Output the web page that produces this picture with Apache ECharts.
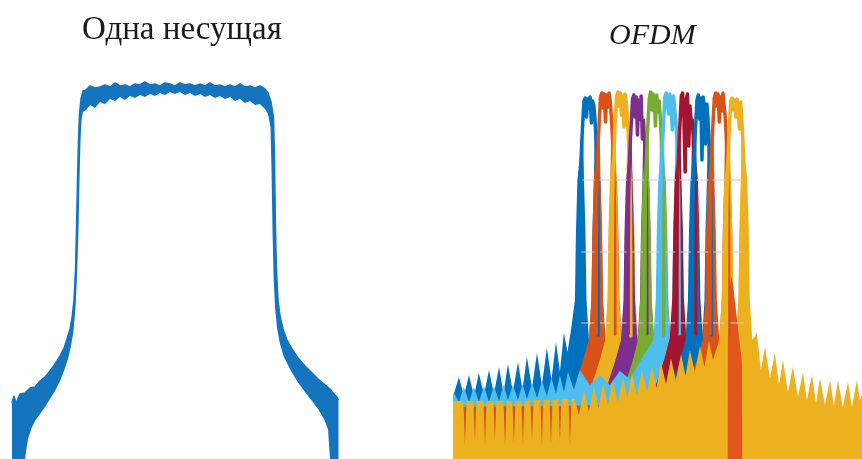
<!DOCTYPE html>
<html>
<head>
<meta charset="utf-8">
<script src="https://cdn.jsdelivr.net/npm/echarts@6/dist/echarts.min.js"></script>
<style>
html,body{margin:0;padding:0;background:#fff;}
#chart{width:862px;height:459px;}
</style>
</head>
<body>
<div id="chart"></div>
<script>
// ---------- Titles ----------
const panelTitles = ['Одна несущая', 'OFDM'];

// ---------- Left panel: single carrier spectrum (frequency, level dB) ----------
const singleOuterFreq = [-16.3,-16.1,-15.9,-15.5,-15.0,-14.5,-14.0,-13.5,-13.0,-12.5,-12.0,-11.5,-11.1,-10.8,-10.5,-10.3,-10.1,-9.95,-9.85,-9.75,-9.65,-9.55,-9.4,-9.2,
  -8.9,-8.5,-8.0,-7.5,-7.0,-6.5,-6.0,-5.5,-5.0,-4.5,-4.0,-3.5,-3.0,-2.5,-2.0,-1.5,-1.0,-0.5,0,0.5,1.0,1.5,2.0,2.5,3.0,3.5,4.0,4.5,5.0,5.5,6.0,6.5,7.0,7.5,8.0,8.5,9.0,9.3,
  9.6,9.85,9.95,10.05,10.15,10.3,10.5,10.8,11.2,11.7,12.3,13.0,13.7,14.3,14.9,15.5,15.9,16.2,16.35];
const singleOuterLevel = [-68.8,-67.4,-68.8,-67.0,-66.8,-65.8,-65.6,-64.4,-63.6,-62.4,-61.0,-59.4,-57.8,-56.0,-54.0,-51.8,-48.2,-42.2,-34.2,-24.2,-16.2,-11.0,-8.0,-6.4,
  -6.2,-5.4,-5.8,-5.6,-5.2,-5.6,-4.8,-5.4,-5.2,-5.6,-5.0,-5.2,-4.6,-5.2,-5.0,-5.4,-4.8,-5.0,-5.4,-4.8,-5.2,-5.0,-5.4,-5.0,-5.4,-4.8,-5.4,-5.2,-5.6,-5.2,-5.6,-5.0,-5.6,-5.4,-5.8,-5.4,-6.0,-6.8,
  -8.6,-11.6,-20.2,-34.2,-42.2,-48.2,-51.4,-54.0,-56.2,-58.0,-59.8,-61.4,-62.8,-64.0,-65.0,-66.0,-67.0,-67.6,-68.2];
const singleInnerFreq = [-16.5,-15.0,-14.7,-14.3,-14.0,-13.5,-13.0,-12.5,-12.0,-11.5,-11.1,-10.7,-10.4,-10.15,-9.95,-9.8,-9.65,-9.55,-9.45,-9.35,-9.2,
  -8.9,-8.5,-8.0,-7.5,-7.0,-6.5,-6.0,-5.5,-5.0,-4.5,-4.0,-3.5,-3.0,-2.5,-2.0,-1.5,-1.0,-0.5,0,0.5,1.0,1.5,2.0,2.5,3.0,3.5,4.0,4.5,5.0,5.5,6.0,6.5,7.0,7.5,8.0,8.5,9.0,9.3,
  9.55,9.65,9.75,9.85,10.0,10.2,10.5,10.9,11.5,12.2,13.0,13.7,14.3,14.9,15.3,15.5,16.5];
const singleInnerLevel = [-80,-80,-76.0,-73.6,-72.4,-71.0,-69.6,-68.0,-66.4,-64.4,-62.4,-60.0,-57.4,-54.4,-49.8,-43.6,-34.2,-24.2,-16.4,-12.2,-10.6,
  -10.2,-9.2,-9.8,-8.6,-9.0,-8.0,-8.4,-7.6,-8.2,-7.4,-7.8,-7.2,-7.6,-7.0,-7.4,-6.8,-7.2,-6.6,-7.0,-6.6,-7.2,-6.8,-7.4,-7.0,-7.6,-7.2,-7.8,-7.4,-8.0,-7.6,-8.4,-8.0,-8.8,-8.4,-9.2,-9.0,-10.0,-11.0,
  -13.6,-22.2,-34.2,-43.2,-49.6,-53.8,-57.0,-59.6,-62.0,-64.4,-66.6,-68.4,-70.0,-72.0,-74.0,-80,-80];

// ---------- Right panel: OFDM subcarriers (frequency in subcarrier spacings, level dB) ----------
const carrierNames = ['Поднесущая 1','Поднесущая 2','Поднесущая 3','Поднесущая 4','Поднесущая 5','Поднесущая 6','Поднесущая 7','Поднесущая 8','Поднесущая 9','Поднесущая 10'];
const carrierCenters = [0, 1, 1.97, 2.94, 3.96, 4.9, 5.9, 6.85, 7.9, 8.9];
// main lobe outline: left edge, noisy top, right edge
const lobeOffsets = [-0.57,-0.56,-0.54,-0.5,-0.43,-0.36,-0.3,-0.22,-0.15,-0.07,0,0.07,0.15,0.22,0.3,0.36,0.43,0.5,0.54,0.56,0.57];
const lobeLevels1  = [-55.2,-38.2,-28.2,-22.2,-16.2,-11.8,-8.4,-7.8,-11.6,-8.0,-9.8,-7.6,-12.8,-8.4,-9.4,-11.8,-16.2,-22.2,-28.2,-38.2,-55.2];
const lobeLevels2  = [-55.0,-38.0,-28.0,-22.0,-16.0,-11.4,-7.6,-6.8,-9.8,-7.0,-12.6,-7.2,-9.6,-6.8,-8.8,-11.6,-16.0,-22.0,-28.0,-38.0,-55.0];
const lobeLevels3  = [-55.4,-38.4,-28.4,-22.4,-16.4,-11.6,-7.8,-6.6,-9.4,-6.8,-11.2,-7.4,-13.6,-7.0,-9.0,-11.8,-16.4,-22.4,-28.4,-38.4,-55.4];
const lobeLevels4  = [-55.0,-38.0,-28.0,-22.0,-16.2,-12.0,-8.0,-7.2,-11.6,-7.6,-15.2,-8.2,-12.0,-7.4,-16.0,-12.2,-16.2,-22.0,-28.0,-38.0,-55.0];
const lobeLevels5  = [-55.2,-38.2,-28.2,-22.2,-16.0,-11.4,-7.8,-6.6,-10.2,-7.0,-8.8,-13.4,-7.2,-10.6,-8.4,-11.6,-16.0,-22.2,-28.2,-38.2,-55.2];
const lobeLevels6  = [-55.0,-38.0,-28.0,-22.0,-16.2,-11.6,-7.6,-6.8,-8.6,-11.0,-7.0,-9.4,-14.2,-7.4,-10.2,-12.0,-16.2,-22.0,-28.0,-38.0,-55.0];
const lobeLevels7  = [-55.0,-38.0,-28.0,-22.0,-16.0,-11.4,-7.4,-6.8,-10.8,-22.6,-8.2,-7.0,-17.4,-9.4,-12.8,-12.2,-16.0,-22.0,-28.0,-38.0,-55.0];
const lobeLevels8  = [-55.2,-38.2,-28.2,-22.2,-16.2,-11.8,-8.2,-7.2,-12.0,-7.8,-20.2,-7.6,-10.0,-17.0,-9.0,-11.8,-16.2,-22.2,-28.2,-38.2,-55.2];
const lobeLevels9  = [-55.0,-38.0,-28.0,-22.0,-16.0,-11.4,-7.8,-6.8,-9.4,-7.0,-12.6,-7.6,-10.4,-6.8,-9.6,-11.6,-16.0,-22.0,-28.0,-38.0,-55.0];
const lobeLevels10 = [-55.2,-38.2,-28.2,-22.2,-16.2,-11.8,-8.4,-7.8,-10.2,-8.2,-11.6,-8.0,-9.6,-14.0,-8.6,-11.8,-16.2,-22.2,-28.2,-38.2,-55.2];

// sidelobe skirts (filled edges under each lobe + sidelobe combs)
const skirt1Freq  = [-8.21,-7.88,-7.58,-7.27,-6.97,-6.67,-6.36,-6.06,-5.76,-5.45,-5.18,-4.91,-4.61,-4.3,-4.03,-3.76,-3.45,-3.15,-2.85,-2.55,-2.27,-2.0,-1.76,-1.52,
  -1.3,-1.09,-0.85,-0.79,-0.7,-0.36,-0.3,-0.21,-0.15,0,0.15,0.21,0.3,0.36,0.7,0.79,0.85,1.0,1.33,1.82,2.42,3.03];
const skirt1Level = [-67.2,-63.6,-67.4,-63.2,-67.4,-62.8,-67.2,-62.2,-67.0,-61.6,-66.8,-61.0,-66.6,-60.6,-66.2,-59.6,-65.8,-58.8,-65.2,-57.8,-64.2,-56.6,-62.6,-54.8,
  -58.6,-54.2,-48.2,-34.8,-24.2,-13.2,-24.2,-34.8,-48.2,-56.2,-48.2,-34.8,-24.2,-13.2,-24.2,-34.8,-48.2,-56.2,-60.2,-65.2,-70.6,-80];
const skirtOffsets = [-3.03,-2.42,-1.82,-1.33,-1.0,-0.85,-0.79,-0.7,-0.36,-0.3,-0.21,-0.15,0,0.15,0.21,0.3,0.36,0.7,0.79,0.85,1.0,1.33,1.82,2.42,3.03];
const skirt2Level = [-80,-70.4,-65.0,-60.0,-56.0,-48.0,-34.4,-23.8,-12.8,-24.0,-35.0,-48.4,-56.4,-48.0,-34.6,-24.2,-13.4,-24.4,-35.0,-48.4,-56.2,-60.4,-65.4,-70.8,-80];
const skirt3Level = [-80,-70.8,-65.4,-60.4,-56.4,-48.4,-35.0,-24.0,-12.6,-24.4,-34.6,-48.0,-56.0,-48.2,-35.0,-24.0,-13.0,-24.2,-34.8,-48.0,-56.0,-60.0,-65.0,-70.6,-80];
const skirt4Level = [-80,-70.4,-65.2,-60.2,-56.2,-48.4,-35.2,-24.6,-13.6,-24.6,-35.2,-48.6,-56.6,-48.6,-35.4,-24.6,-13.8,-24.4,-35.0,-48.2,-56.4,-60.4,-65.4,-70.8,-80];
const skirt5Level = [-80,-70.8,-65.6,-60.6,-56.4,-48.0,-34.6,-24.0,-12.8,-24.2,-34.8,-48.4,-56.2,-48.2,-34.8,-24.2,-13.2,-24.2,-34.8,-48.4,-56.4,-60.4,-65.4,-70.8,-80];
const skirt6CombFreq  = [-8.21,-7.88,-7.58,-7.27,-6.97,-6.67,-6.36,-6.06,-5.76,-5.45,-5.18,-4.91,-4.61,-4.3,-4.03,-3.76,-3.45,-3.15,-2.85,-2.55,-2.27,-2.0,-1.76,-1.52,-1.27,-0.91,-0.55,0.06,0.67,1.27];
const skirt6CombLevel = [-66.6,-68.6,-65.6,-68.6,-65.6,-68.6,-65.4,-68.6,-65.4,-68.4,-65.2,-68.2,-65.2,-68.2,-65.0,-68.0,-64.8,-67.8,-64.4,-67.4,-63.8,-67.0,-63.2,-66.6,-62.6,-66.2,-62.2,-65.2,-63.2,-65.2];
const skirt6Level = [-62.4,-64.0,-60.6,-58.0,-56.2,-48.2,-34.8,-24.2,-13.0,-24.0,-34.6,-48.0,-56.0,-48.2,-34.8,-24.2,-13.2,-24.2,-34.8,-48.2,-56.2,-60.2,-65.2,-70.6,-80];
const skirt7Level = [-80,-70.4,-65.0,-60.0,-55.8,-47.8,-34.2,-23.6,-12.6,-23.8,-34.4,-47.8,-55.8,-47.8,-34.4,-23.8,-12.8,-23.8,-34.4,-47.8,-55.8,-60.0,-65.0,-70.4,-80];
const skirt8Level = [-80,-70.6,-65.2,-60.2,-56.2,-48.2,-34.8,-24.4,-13.4,-24.6,-35.0,-48.4,-56.4,-48.4,-35.0,-24.4,-13.2,-24.2,-34.8,-48.2,-56.2,-60.2,-65.2,-70.6,-80];
const skirt9FloorFreq  = [-8.24,-1.76,3.7,4.6];
const skirt9FloorLevel = [-69.6,-69.4,-69.0,-68.8];
const skirt9Level = [-68.6,-67.0,-64.0,-60.0,-56.2,-48.2,-34.8,-24.2,-13.2,-24.2,-34.8,-48.2,-56.2,-48.2,-34.8,-24.2,-13.2,-24.2,-34.8,-48.2,-56.2,-60.2,-65.0,-68.8,-69.4];
const skirt9TailFreq  = [11.58,16.55];
const skirt9TailLevel = [-69.8,-70.2];
const skirt10Freq = [-8.24,-7.61,-7.52,-7.42,-7.0,-6.91,-6.82,-6.39,-6.3,-6.21,-5.79,-5.7,-5.61,-5.18,-5.09,-5.0,-4.64,-4.55,-4.45,-4.09,-4.0,-3.91,-3.55,-3.45,-3.36,-2.94,-2.85,-2.76,-2.39,-2.3,-2.21,-1.85,-1.76,-1.67,-1.24,-1.15,-1.06,
  -0.85,-0.61,-0.3,0,0.3,0.58,0.85,1.15,1.45,1.76,2.06,2.33,2.61,2.91,3.21,3.52,3.82,4.09,4.36,4.67,4.97,5.27,5.58,5.85,6.12,6.42,6.73,7.0,7.27,
  7.52,7.9,8.05,8.11,8.2,8.54,8.6,8.69,8.75,8.9,9.05,9.11,9.2,9.26,9.6,9.69,9.75,9.9,10.18,
  10.42,10.67,10.97,11.27,11.52,11.76,12.06,12.36,12.67,12.97,13.21,13.52,13.76,14.0,14.3,14.61,14.85,15.09,15.39,15.7,15.94,16.24,16.42,16.55];
const skirt10Level = [-68.4,-68.4,-77.2,-68.4,-68.4,-76.6,-68.4,-68.4,-77.4,-68.4,-68.4,-76.2,-68.4,-68.4,-77.6,-68.4,-68.4,-76.8,-68.4,-68.4,-77.2,-68.4,-68.2,-76.4,-68.2,-68.2,-77.4,-68.2,-68.2,-77.0,-68.2,-68.0,-76.6,-68.0,-68.0,-77.2,-68.0,
  -68.0,-71.2,-66.2,-70.6,-65.4,-69.8,-64.8,-69.2,-64.2,-68.6,-63.6,-67.8,-62.8,-67.2,-62.2,-66.6,-61.4,-65.8,-60.6,-65.0,-59.8,-64.2,-59.0,-63.4,-58.2,-62.6,-57.4,-61.6,-56.4,
  -60.2,-56.2,-48.2,-34.8,-24.2,-13.2,-24.2,-34.8,-48.2,-56.2,-48.2,-34.8,-24.2,-13.2,-24.2,-34.8,-48.2,-56.2,-54.8,
  -62.2,-57.6,-63.8,-58.8,-65.2,-60.2,-66.6,-61.6,-67.6,-62.6,-68.2,-63.2,-68.8,-63.8,-69.2,-64.2,-69.4,-64.2,-69.6,-64.6,-69.6,-64.2,-68.2,-67.2];
const stripFreq  = [8.41,8.42,8.52,8.64,8.73,8.91,9.15,9.27,9.29];
const stripLevel = [-80,-54.2,-46.2,-43.4,-45.2,-50.2,-57.2,-60.6,-80];

const gridLevels = [-24.2, -38.6, -52.8];
const gridSpan = [-0.55, 9.45];

// ---------- styles ----------
const singleColor = '#1474BE';
const carrierColors = ['#0072BD','#D95319','#EDB120','#7E2F8E','#77AC30','#4DBEEE','#A2142F','#0072BD','#D95319','#EDB120'];

function pairs(f, l) { return f.map((x, i) => [x, l[i]]); }
function shifted(c, offs, lev) { return offs.map((o, i) => [c + o, lev[i]]); }

const lobeLevels = [lobeLevels1,lobeLevels2,lobeLevels3,lobeLevels4,lobeLevels5,lobeLevels6,lobeLevels7,lobeLevels8,lobeLevels9,lobeLevels10];
const skirtData = [
  pairs(skirt1Freq, skirt1Level),
  shifted(carrierCenters[1], skirtOffsets, skirt2Level),
  shifted(carrierCenters[2], skirtOffsets, skirt3Level),
  shifted(carrierCenters[3], skirtOffsets, skirt4Level),
  shifted(carrierCenters[4], skirtOffsets, skirt5Level),
  pairs(skirt6CombFreq, skirt6CombLevel).concat(shifted(carrierCenters[5], skirtOffsets, skirt6Level)),
  shifted(carrierCenters[6], skirtOffsets, skirt7Level),
  shifted(carrierCenters[7], skirtOffsets, skirt8Level),
  pairs(skirt9FloorFreq, skirt9FloorLevel).concat(shifted(carrierCenters[8], skirtOffsets, skirt9Level), pairs(skirt9TailFreq, skirt9TailLevel)),
  pairs(skirt10Freq, skirt10Level)
];

const base = { type: 'line', showSymbol: false, silent: true, animation: false };
const noLine = { width: 0, opacity: 0 };
const series = [];
series.push(Object.assign({}, base, {
  name: panelTitles[0], xAxisIndex: 0, yAxisIndex: 0,
  data: pairs(singleOuterFreq, singleOuterLevel),
  lineStyle: { color: singleColor, width: 1.5 },
  areaStyle: { color: singleColor, opacity: 1, origin: 'start' }
}));
series.push(Object.assign({}, base, {
  name: panelTitles[0] + ' (inner)', xAxisIndex: 0, yAxisIndex: 0,
  data: pairs(singleInnerFreq, singleInnerLevel),
  lineStyle: noLine,
  areaStyle: { color: '#ffffff', opacity: 1, origin: 'start' }
}));
gridLevels.forEach(l => series.push(Object.assign({}, base, {
  xAxisIndex: 1, yAxisIndex: 1,
  data: [[gridSpan[0], l], [gridSpan[1], l]],
  lineStyle: { color: '#cfcfcf', width: 1 }
})));
skirtData.forEach((d, k) => series.push(Object.assign({}, base, {
  name: carrierNames[k] + ' sidelobes', xAxisIndex: 1, yAxisIndex: 1,
  data: d, smooth: false,
  lineStyle: noLine,
  areaStyle: { color: carrierColors[k], opacity: 1, origin: 'start' }
})));
series.push(Object.assign({}, base, {
  name: carrierNames[8] + ' spur', xAxisIndex: 1, yAxisIndex: 1,
  data: pairs(stripFreq, stripLevel),
  lineStyle: noLine,
  areaStyle: { color: '#E0561B', opacity: 1, origin: 'start' }
}));
lobeLevels.forEach((lev, k) => series.push(Object.assign({}, base, {
  name: carrierNames[k], xAxisIndex: 1, yAxisIndex: 1,
  data: shifted(carrierCenters[k], lobeOffsets, lev),
  lineStyle: { color: carrierColors[k], width: 3.5, cap: 'round', join: 'round' }
})));

const chart = echarts.init(document.getElementById('chart'), null, { renderer: 'canvas' });
chart.setOption({
  backgroundColor: '#ffffff',
  animation: false,
  title: [
    { text: panelTitles[0], left: 82, top: 14, padding: 0,
      textStyle: { fontFamily: '"Times New Roman","Liberation Serif",serif', fontSize: 33, fontWeight: 'normal', color: '#1a1a1a' } },
    { text: panelTitles[1], left: 609, top: 21, padding: 0,
      textStyle: { fontFamily: '"Times New Roman","Liberation Serif",serif', fontSize: 30, fontStyle: 'italic', fontWeight: 'normal', color: '#1a1a1a' } }
  ],
  grid: [
    { left: 10, width: 330, top: 59, bottom: 0 },
    { left: 453, right: 0, top: 59, bottom: 0 }
  ],
  xAxis: [
    { type: 'value', gridIndex: 0, min: -16.5, max: 16.5, show: false },
    { type: 'value', gridIndex: 1, min: -8.24, max: 16.55, show: false }
  ],
  yAxis: [
    { type: 'value', gridIndex: 0, min: -80, max: 0, show: false },
    { type: 'value', gridIndex: 1, min: -80, max: 0, show: false }
  ],
  series: series
});
</script>
</body>
</html>
